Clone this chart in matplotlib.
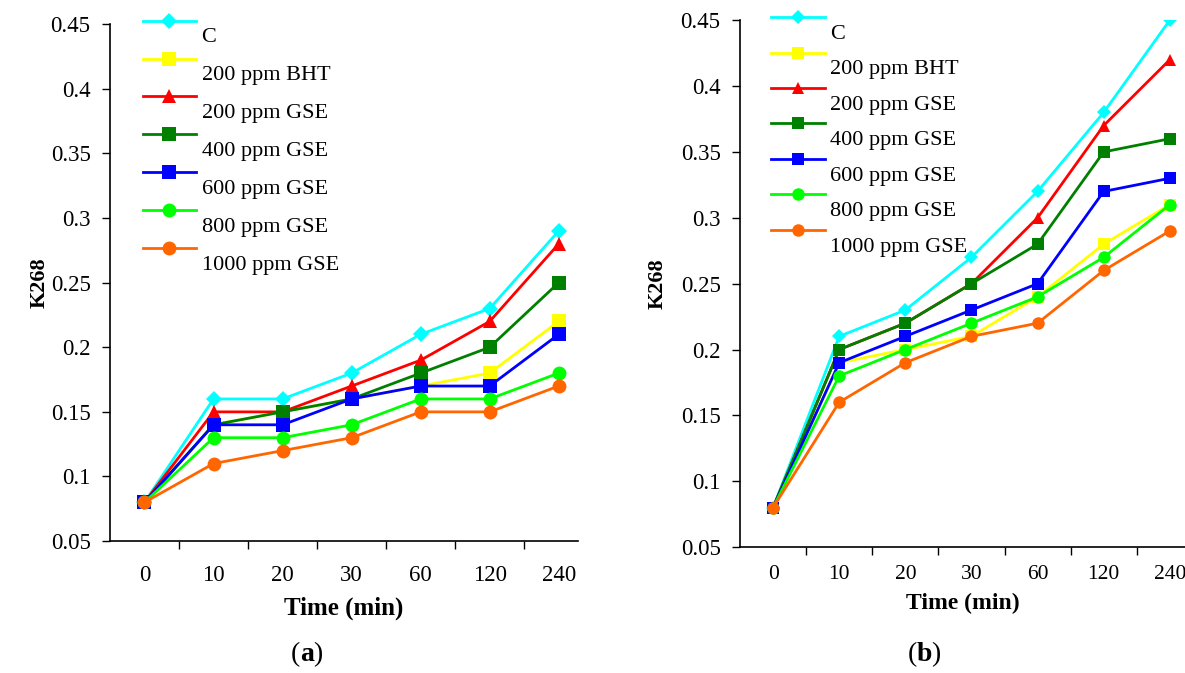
import matplotlib
matplotlib.use('Agg')
import matplotlib.pyplot as plt
from matplotlib.ticker import FixedLocator, FormatStrFormatter

plt.rcParams['font.family'] = ['Liberation Serif', 'DejaVu Serif']

# Datos
tiempos = ['0', '10', '20', '30', '60', '120', '240']
series = ['C', '200 ppm BHT', '200 ppm GSE', '400 ppm GSE',
          '600 ppm GSE', '800 ppm GSE', '1000 ppm GSE']

datos_a = {
    'C':            [0.08, 0.16, 0.16, 0.18, 0.21, 0.23, 0.29],
    '200 ppm BHT':  [0.08, 0.14, 0.15, 0.16, 0.17, 0.18, 0.22],
    '200 ppm GSE':  [0.08, 0.15, 0.15, 0.17, 0.19, 0.22, 0.28],
    '400 ppm GSE':  [0.08, 0.14, 0.15, 0.16, 0.18, 0.20, 0.25],
    '600 ppm GSE':  [0.08, 0.14, 0.14, 0.16, 0.17, 0.17, 0.21],
    '800 ppm GSE':  [0.08, 0.13, 0.13, 0.14, 0.16, 0.16, 0.18],
    '1000 ppm GSE': [0.08, 0.11, 0.12, 0.13, 0.15, 0.15, 0.17],
}

datos_b = {
    'C':            [0.08, 0.21, 0.23, 0.27, 0.32, 0.38, 0.45],
    '200 ppm BHT':  [0.08, 0.19, 0.20, 0.21, 0.24, 0.28, 0.31],
    '200 ppm GSE':  [0.08, 0.20, 0.22, 0.25, 0.30, 0.37, 0.42],
    '400 ppm GSE':  [0.08, 0.20, 0.22, 0.25, 0.28, 0.35, 0.36],
    '600 ppm GSE':  [0.08, 0.19, 0.21, 0.23, 0.25, 0.32, 0.33],
    '800 ppm GSE':  [0.08, 0.18, 0.20, 0.22, 0.24, 0.27, 0.31],
    '1000 ppm GSE': [0.08, 0.16, 0.19, 0.21, 0.22, 0.26, 0.29],
}

colores = ['#00FFFF', '#FFFF00', '#FF0000', '#008000', '#0000FF', '#00FF00', '#FF6600']
marcadores = ['D', 's', '^', 's', 's', 'o', 'o']
tam_marcador = [8, 10, 10, 10, 10, 10, 10]


def dibujar(ax, datos, xmax, leg_y, espacio, ms, fs_tick, fs_x, pad_x, lpad_x, lpad_y):
    x = list(range(len(tiempos)))
    for i, nombre in enumerate(series):
        ax.plot(x, datos[nombre], color=colores[i], marker=marcadores[i],
                markersize=tam_marcador[i] * ms, linewidth=2,
                markeredgewidth=0, label=nombre)
    ax.set_xlim(-0.5, xmax)
    ax.set_ylim(0.05, 0.45)
    ax.set_yticks([0.05, 0.1, 0.15, 0.2, 0.25, 0.3, 0.35, 0.4, 0.45])
    ax.yaxis.set_major_formatter(FormatStrFormatter('%g'))
    ax.set_xticks(x)
    ax.set_xticklabels(tiempos)
    ax.xaxis.set_minor_locator(FixedLocator([i + 0.5 for i in range(6)]))
    ax.tick_params(axis='x', which='major', length=0, pad=pad_x, labelsize=fs_tick)
    ax.tick_params(axis='x', which='minor', length=6, width=1, direction='out')
    ax.tick_params(axis='y', length=6, width=1, direction='out', labelsize=16.5, pad=8)
    for lado in ['top', 'right']:
        ax.spines[lado].set_visible(False)
    for lado in ['left', 'bottom']:
        ax.spines[lado].set_linewidth(1.2)
    ax.set_ylabel('K268', fontsize=16, fontweight='bold', labelpad=lpad_y)
    ax.set_xlabel('Time (min)', fontsize=fs_x, fontweight='bold', labelpad=lpad_x)

    # leyenda estilo Excel: el texto queda debajo de la línea
    leg = ax.legend(loc='upper left', bbox_to_anchor=(0.07, leg_y), frameon=False,
                    fontsize=16, handlelength=2.4, handletextpad=0.25,
                    labelspacing=espacio, borderaxespad=0, borderpad=0)
    for t in leg.get_texts():
        t.set_position((0, -14))
    return leg


fig = plt.figure(figsize=(11.85, 6.73), dpi=100)
ax1 = fig.add_axes([0.0928, 0.196, 0.395, 0.768])
ax2 = fig.add_axes([0.6245, 0.187, 0.3755, 0.783])

dibujar(ax1, datos_a, 6.28, 1.022, 0.78, 1.0, 16.5, 18, 17, 8, 1)
dibujar(ax2, datos_b, 6.23, 1.0205, 0.67, 0.9, 15.5, 17, 13, 6, 9)

fig.text(0.2535, 0.027, '(', fontsize=20, ha='right', va='center')
fig.text(0.2535, 0.027, 'a', fontsize=20, fontweight='bold', ha='left', va='center')
fig.text(0.2640, 0.027, ')', fontsize=20, ha='left', va='center')

fig.text(0.7735, 0.027, '(', fontsize=20, ha='right', va='center')
fig.text(0.7735, 0.027, 'b', fontsize=20, fontweight='bold', ha='left', va='center')
fig.text(0.7855, 0.027, ')', fontsize=20, ha='left', va='center')

fig.savefig('out.png', dpi=100)
